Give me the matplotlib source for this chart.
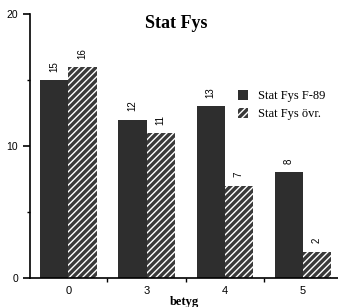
import numpy as np
import matplotlib
matplotlib.use("Agg")
import matplotlib.pyplot as plt

# Data
grades = ["0", "3", "4", "5"]
f89 = [15, 12, 13, 8]
ovr = [16, 11, 7, 2]
series_labels = ["Stat Fys F-89", "Stat Fys övr."]

plt.rcParams['hatch.linewidth'] = 1.0

fig = plt.figure(figsize=(3.38, 3.07), dpi=100)
ax = fig.add_axes([0.089, 0.0945, 0.911, 0.8595])

x = np.arange(len(grades))
w = 0.36
dark = "#2e2e2e"
b1 = ax.bar(x - w / 2, f89, w, color=dark, linewidth=0, label=series_labels[0])
b2 = ax.bar(x + w / 2, ovr, w, facecolor="#3a3a3a", edgecolor="white",
            hatch="/////", linewidth=0, label=series_labels[1])

# rotated value labels above each bar
for bars, vals in [(b1, f89), (b2, ovr)]:
    for r, v in zip(bars, vals):
        ax.annotate(str(v), (r.get_x() + r.get_width() / 2, v),
                    xytext=(0, 6), textcoords="offset points",
                    rotation=90, ha="center", va="bottom",
                    fontsize=7, family="Liberation Sans")

ax.set_xlim(-0.49, 3.45)
ax.set_ylim(0, 20)
ax.spines["top"].set_visible(False)
ax.spines["right"].set_visible(False)
ax.spines["left"].set_linewidth(1.2)
ax.spines["bottom"].set_linewidth(1.2)

ax.set_yticks([0, 10, 20])
ax.set_yticks([5, 15], minor=True)
ax.tick_params(axis="y", which="major", length=5, width=1.2, labelsize=7.5)
ax.tick_params(axis="y", which="minor", length=2, width=1)
ax.set_xticks(x)
ax.set_xticklabels(grades)
ax.set_xticks([0.5, 1.5, 2.5], minor=True)
ax.tick_params(axis="x", which="major", length=0, pad=6, labelsize=8)
ax.tick_params(axis="x", which="minor", length=3, width=1)
for lab in ax.get_xticklabels() + ax.get_yticklabels():
    lab.set_family("Liberation Sans")

ax.set_xlabel("betyg", family="Liberation Serif", fontweight="bold",
              fontsize=9, va="center")
ax.xaxis.set_label_coords(0.5, -24 / 264)

fig.text(176 / 338, 1 - 24 / 307, "Stat Fys", family="Liberation Serif",
         fontweight="bold", fontsize=13, ha="center", va="center")

ax.legend(loc="upper left", bbox_to_anchor=(0.655, 0.735), frameon=False,
          prop={"family": "Liberation Serif", "size": 9},
          handlelength=0.8, handleheight=0.8, handletextpad=0.8,
          labelspacing=0.45, borderpad=0)

fig.savefig("out.png", dpi=100)
